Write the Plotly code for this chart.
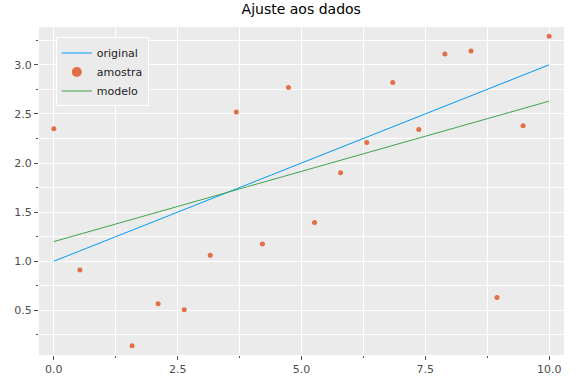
import plotly.graph_objects as go

# Data
x_line = [0.0, 10.0]
y_original = [1.0, 3.0]
y_modelo = [1.2, 2.63]

x_amostra = [0.0, 0.526, 1.053, 1.579, 2.105, 2.632, 3.158, 3.684, 4.211, 4.737,
             5.263, 5.789, 6.316, 6.842, 7.368, 7.895, 8.421, 8.947, 9.474, 10.0]
y_amostra = [2.35, 0.91, 2.95, 0.14, 0.567, 0.506, 1.06, 2.52, 1.175, 2.77,
             1.395, 1.90, 2.21, 2.82, 2.34, 3.11, 3.14, 0.63, 2.38, 3.29]

x_ticks = [0.0, 2.5, 5.0, 7.5, 10.0]
x_ticklabels = ["0.0", "2.5", "5.0", "7.5", "10.0"]
y_ticks = [0.5, 1.0, 1.5, 2.0, 2.5, 3.0]
y_ticklabels = ["0.5", "1.0", "1.5", "2.0", "2.5", "3.0"]

FONT = "DejaVu Sans"
C_ORIG = "#009AFA"
C_AMOS = "#E26F46"
C_MOD = "#3EA44E"

fig = go.Figure()
fig.add_trace(go.Scatter(x=x_line, y=y_original, mode="lines", name="original",
                         line=dict(color=C_ORIG, width=1), legendrank=1))
fig.add_trace(go.Scatter(x=x_amostra, y=y_amostra, mode="markers", name="amostra",
                         marker=dict(color=C_AMOS, size=5, line=dict(width=0)),
                         showlegend=False))
# legend entry for the sample markers (larger legend symbol)
fig.add_trace(go.Scatter(x=[None], y=[None], mode="markers", name="amostra",
                         marker=dict(color=C_AMOS, size=10, line=dict(width=0)),
                         legendrank=2))
fig.add_trace(go.Scatter(x=x_line, y=y_modelo, mode="lines", name="modelo",
                         line=dict(color=C_MOD, width=1), legendrank=3))

axis_common = dict(
    showgrid=True, gridcolor="white", gridwidth=1.3,
    zeroline=False, showline=False, automargin=False,
    ticks="outside", ticklen=4, tickwidth=1, tickcolor="#4D4D4D",
    tickfont=dict(family=FONT, size=11, color="#4D4D4D"),
)

fig.update_xaxes(range=[-0.3, 10.3], tickvals=x_ticks, ticktext=x_ticklabels,
                 minor=dict(dtick=1.25, tick0=0, showgrid=True, gridcolor="white",
                            gridwidth=0.6, ticks="outside", ticklen=2,
                            tickcolor="#4D4D4D"),
                 **axis_common)
fig.update_yaxes(range=[0.045, 3.385], tickvals=y_ticks, ticktext=y_ticklabels,
                 minor=dict(dtick=0.25, tick0=0, showgrid=True, gridcolor="white",
                            gridwidth=0.6, ticks="outside", ticklen=2,
                            tickcolor="#4D4D4D"),
                 **axis_common)

fig.update_layout(
    width=576, height=384,
    margin=dict(l=39, r=12, t=27, b=29, autoexpand=False),
    paper_bgcolor="white", plot_bgcolor="#EBEBEB",
    title=dict(text="Ajuste aos dados", x=0.523, xanchor="center", y=0.99, yanchor="top",
               automargin=False,
               font=dict(family=FONT, size=14, color="black")),
    font=dict(family=FONT),
    legend=dict(x=0.032, y=0.968, xanchor="left", yanchor="top",
                bgcolor="#EBEBEB", bordercolor="white", borderwidth=1,
                font=dict(family=FONT, size=11, color="#222222"),
                tracegroupgap=0, itemwidth=30, traceorder="normal"),
    showlegend=True,
)

fig.write_html("out.html", config={"displayModeBar": False},
               post_script="document.body.style.margin='0';document.body.style.padding='0';")
